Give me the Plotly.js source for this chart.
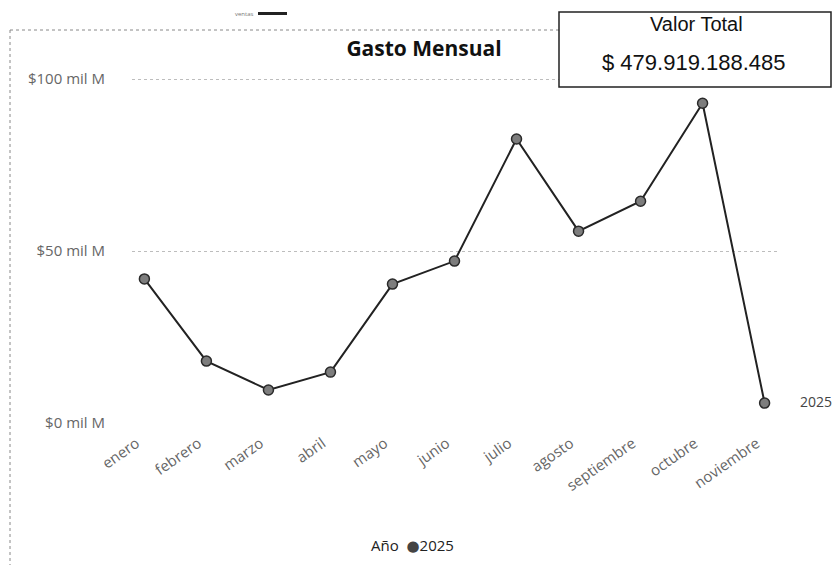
<!DOCTYPE html>
<html>
<head>
<meta charset="utf-8">
<script src="https://cdn.plot.ly/plotly-3.0.1.min.js"></script>
<style>html,body{margin:0;padding:0;background:#fff;}#chart{width:833px;height:565px;}</style>
</head>
<body>
<div id="chart"></div>
<script>
// Data (values in "mil M")
const months = ["enero","febrero","marzo","abril","mayo","junio","julio","agosto","septiembre","octubre","noviembre"];
const gasto2025 = [41.9, 18.0, 9.6, 14.8, 40.4, 47.1, 82.6, 55.8, 64.5, 93.0, 5.8];
const seriesName = "2025";
const legendTitle = "Año";
const yTickVals = [0, 50, 100];
const yTickText = ["$0 mil M", "$50 mil M", "$100 mil M"];
const totalLabel = "Valor Total";
const totalValue = "$ 479.919.188.485";

const W = 833, H = 565;
const M = {l:132, r:56, t:62, b:142, autoexpand: false};
const PW = W - M.l - M.r, PH = H - M.t - M.b;
const px = v => (v - M.l) / PW;           // page x -> paper x
const py = v => (H - M.b - v) / PH;       // page y -> paper y

const traces = [
  {
    x: months, y: gasto2025, type: "scatter", mode: "lines+markers",
    name: seriesName, showlegend: false,
    line: {color: "#222", width: 2},
    marker: {size: 10, color: "#7d7d7d", line: {color: "#2a2a2a", width: 1.5}},
    hoverinfo: "x+y"
  }
];

const layout = {
  width: W, height: H,
  margin: M,
  showlegend: false,
  paper_bgcolor: "#fff", plot_bgcolor: "#fff",
  font: {family: "Open Sans, DejaVu Sans, sans-serif", color: "#555", size: 12},
  title: {
    text: "<b>Gasto Mensual</b>",
    font: {family: "Open Sans, DejaVu Sans, sans-serif", size: 21, color: "#111"},
    x: 424 / W, xanchor: "center", y: 1 - 49 / H, yanchor: "middle"
  },
  xaxis: {
    type: "category", range: [-0.2, 10.2],
    tickangle: -35, showgrid: false, zeroline: false, showline: false,
    ticks: "", ticklabelstandoff: 8, ticklabelshift: -8,
    tickfont: {size: 15, color: "#666"}
  },
  yaxis: {
    range: [0, 105], tickvals: yTickVals, ticktext: yTickText,
    showgrid: true, gridcolor: "#bdbdbd", griddash: "dot", gridwidth: 1,
    zeroline: false, showline: false, ticks: "",
    ticklabelstandoff: 26,
    tickfont: {size: 15, color: "#666"}
  },
  shapes: [
    // dotted frame
    {type: "line", xref: "paper", yref: "paper", x0: px(10), x1: px(561), y0: py(30), y1: py(30),
     line: {color: "#888", width: 1, dash: "dot"}},
    {type: "line", xref: "paper", yref: "paper", x0: px(10), x1: px(10), y0: py(30), y1: py(565),
     line: {color: "#888", width: 1, dash: "dot"}},
    // small mark at top
    {type: "rect", xref: "paper", yref: "paper", x0: px(258), x1: px(287), y0: py(15), y1: py(12),
     fillcolor: "#222", line: {width: 0}},
    // total box
    {type: "rect", xref: "paper", yref: "paper", x0: px(559), x1: px(831), y0: py(87), y1: py(12),
     fillcolor: "#fff", line: {color: "#222", width: 1.5}}
  ],
  annotations: [
    {xref: "paper", yref: "paper", x: px(256), y: py(13.5), xanchor: "right", yanchor: "middle",
     text: "ventas", showarrow: false, font: {size: 6, color: "#777"}},
    {xref: "paper", yref: "paper", x: px(696), y: py(24), xanchor: "center", yanchor: "middle",
     text: totalLabel, showarrow: false, font: {family: "Liberation Sans, Arial, sans-serif", size: 20, color: "#111"}},
    {xref: "paper", yref: "paper", x: px(694), y: py(62), xanchor: "center", yanchor: "middle",
     text: totalValue, showarrow: false, font: {family: "Liberation Sans, Arial, sans-serif", size: 22, color: "#111"}},
    {x: months[months.length - 1], y: gasto2025[gasto2025.length - 1], xref: "x", yref: "y",
     xanchor: "left", yanchor: "middle", xshift: 33, yshift: 2,
     text: seriesName, showarrow: false, font: {size: 14, color: "#444"}},
    // legend
    {xref: "paper", yref: "paper", x: px(412), y: py(545), xanchor: "center", yanchor: "middle",
     text: legendTitle + "  <span style='color:#444'>●</span>" + seriesName, showarrow: false,
     font: {size: 15, color: "#222"}}
  ]
};

Plotly.newPlot("chart", traces, layout, {displayModeBar: false, staticPlot: true});
</script>
</body>
</html>
